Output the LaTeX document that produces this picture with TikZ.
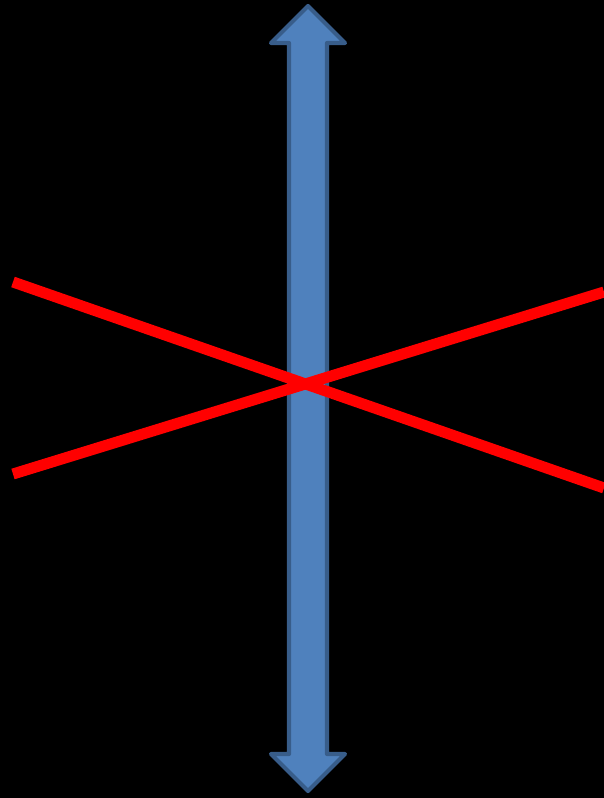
\documentclass[tikz,border=0pt]{standalone}
\usepackage{tikz}
\definecolor{arrowfill}{HTML}{4F81BD}
\definecolor{arrowline}{HTML}{385D8A}
\tikzset{
  bluearrow/.style={fill=arrowfill, draw=arrowline, line width=4.2pt, line join=round},
  redline/.style={draw=red, line width=11pt, line cap=butt}
}
\begin{document}
\begin{tikzpicture}[x=1pt,y=-1pt]
\fill[black] (0,0) rectangle (604,798);
\useasboundingbox (0,0) rectangle (604,798);
\draw[bluearrow] (308,6) -- (345,43) -- (327,43) -- (327,754) -- (345,754) -- (308,791)
  -- (271,754) -- (289,754) -- (289,43) -- (271,43) -- cycle;
\coordinate (a1) at (13,282);
\coordinate (a2) at (604,488);
\coordinate (b1) at (13,474);
\coordinate (b2) at (604,292);
\draw[redline] (a1) -- (a2);
\draw[redline] (b1) -- (b2);
\end{tikzpicture}
\end{document}
